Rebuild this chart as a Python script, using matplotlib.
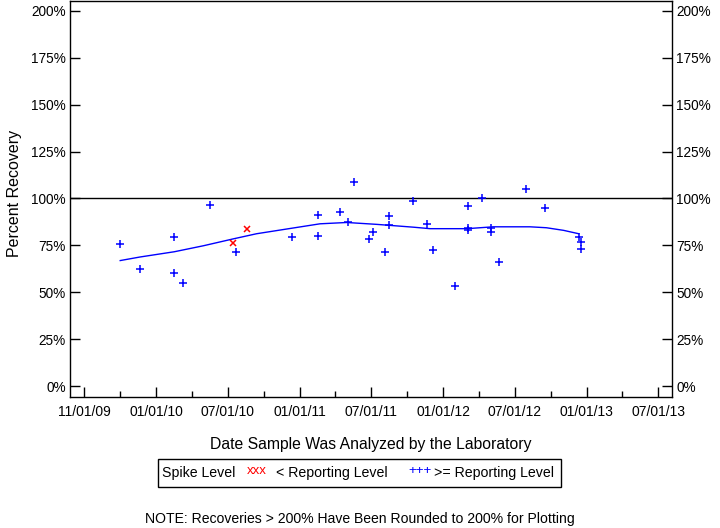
import matplotlib
matplotlib.use('Agg')
import matplotlib.pyplot as plt
from matplotlib.patches import Rectangle

plt.rcParams['font.family'] = ['Liberation Sans', 'DejaVu Sans']

# x positions are in tick units (0 = first tick label, 8 = last)
tick_labels = ['11/01/09', '01/01/10', '07/01/10', '01/01/11', '07/01/11',
               '01/01/12', '07/01/12', '01/01/13', '07/01/13']

# >= reporting level (blue +)
ge_x = [0.50, 0.77, 1.254, 1.254, 1.376, 1.756, 2.11, 2.90, 3.253, 3.26,
        3.568, 3.671, 3.759, 3.972, 4.028, 4.19, 4.25, 4.25, 4.585, 4.776,
        4.864, 5.162, 5.352, 5.352, 5.352, 5.547, 5.672, 5.672, 5.776, 6.16,
        6.425, 6.89, 6.927, 6.927]
ge_y = [75.7, 62.4, 79.6, 60.5, 55.0, 96.6, 71.6, 79.3, 79.8, 91.3,
        92.6, 87.2, 108.7, 78.6, 81.9, 71.6, 90.8, 85.8, 98.9, 86.2,
        72.3, 53.6, 96.1, 84.4, 83.3, 100.5, 84.4, 82.1, 66.3, 105.2,
        95.1, 79.6, 76.6, 73.2]

# < reporting level (red x)
lt_x = [2.068, 2.263]
lt_y = [76.4, 83.9]

# smoothed trend
trend_x = [0.50, 0.776, 1.254, 1.66, 2.068, 2.40, 2.80, 3.285, 3.657, 4.075,
           4.585, 4.818, 5.33, 5.70, 6.21, 6.44, 6.68, 6.89]
trend_y = [66.9, 68.8, 71.6, 74.8, 78.4, 81.2, 83.6, 86.5, 87.2, 86.2,
           84.7, 83.9, 83.9, 84.9, 84.9, 84.4, 83.0, 81.2]

yticks = [0, 25, 50, 75, 100, 125, 150, 175, 200]

fig = plt.figure(figsize=(7.2, 5.28), dpi=100)
ax = fig.add_axes([70/720, 1 - 397/528, 602/720, 396/528])

ax.axhline(100, color='black', lw=1.0)
ax.plot(trend_x, trend_y, color='blue', lw=1.0)
ax.plot(ge_x, ge_y, linestyle='none', marker='+', color='blue',
        markersize=6, markeredgewidth=1.1)
ax.plot(lt_x, lt_y, linestyle='none', marker='x', color='red',
        markersize=5, markeredgewidth=1.1)

ax.set_xlim(-0.2, 8.19)
ax.set_ylim(-5.85, 205.3)
ax.set_xticks(range(len(tick_labels)))
ax.set_xticklabels(tick_labels)
ax.set_xticks([i + 0.5 for i in range(len(tick_labels) - 1)], minor=True)
ax.set_yticks(yticks)
ax.set_yticklabels([f'{v}%' for v in yticks])

ax.tick_params(axis='x', which='major', direction='in', length=7, width=1,
               labelsize=10, pad=6)
ax.tick_params(axis='x', which='minor', direction='in', length=4, width=1)
ax.tick_params(axis='y', direction='in', length=7, width=1, labelsize=9.8,
               pad=3, right=True, labelright=True)
for s in ax.spines.values():
    s.set_linewidth(1)

ax.set_xlabel('Date Sample Was Analyzed by the Laboratory', fontsize=11.3, labelpad=13)
ax.set_ylabel('Percent Recovery', fontsize=11.5)
ax.yaxis.set_label_coords(-0.08, 0.515)

# legend box
fig.patches.append(Rectangle((158/720, 1 - 487/528), 403/720, 28/528,
                             transform=fig.transFigure, fill=False,
                             edgecolor='black', lw=1))
ly = 1 - 473/528
fig.text(162/720, ly, 'Spike Level', fontsize=10.2, va='center')
fig.text(247/720, ly + 0.004, 'xxx', color='red', fontsize=9.5, va='center')
fig.text(276/720, ly, '< Reporting Level', fontsize=10.2, va='center')
fig.text(408/720, ly + 0.004, '+++', color='blue', fontsize=9.5, va='center')
fig.text(434/720, ly, '>= Reporting Level', fontsize=10.2, va='center')

fig.text(360/720, 1 - 519/528, 'NOTE: Recoveries > 200% Have Been Rounded to 200% for Plotting',
         fontsize=10.1, ha='center', va='center')

fig.savefig('out.png', dpi=100)
